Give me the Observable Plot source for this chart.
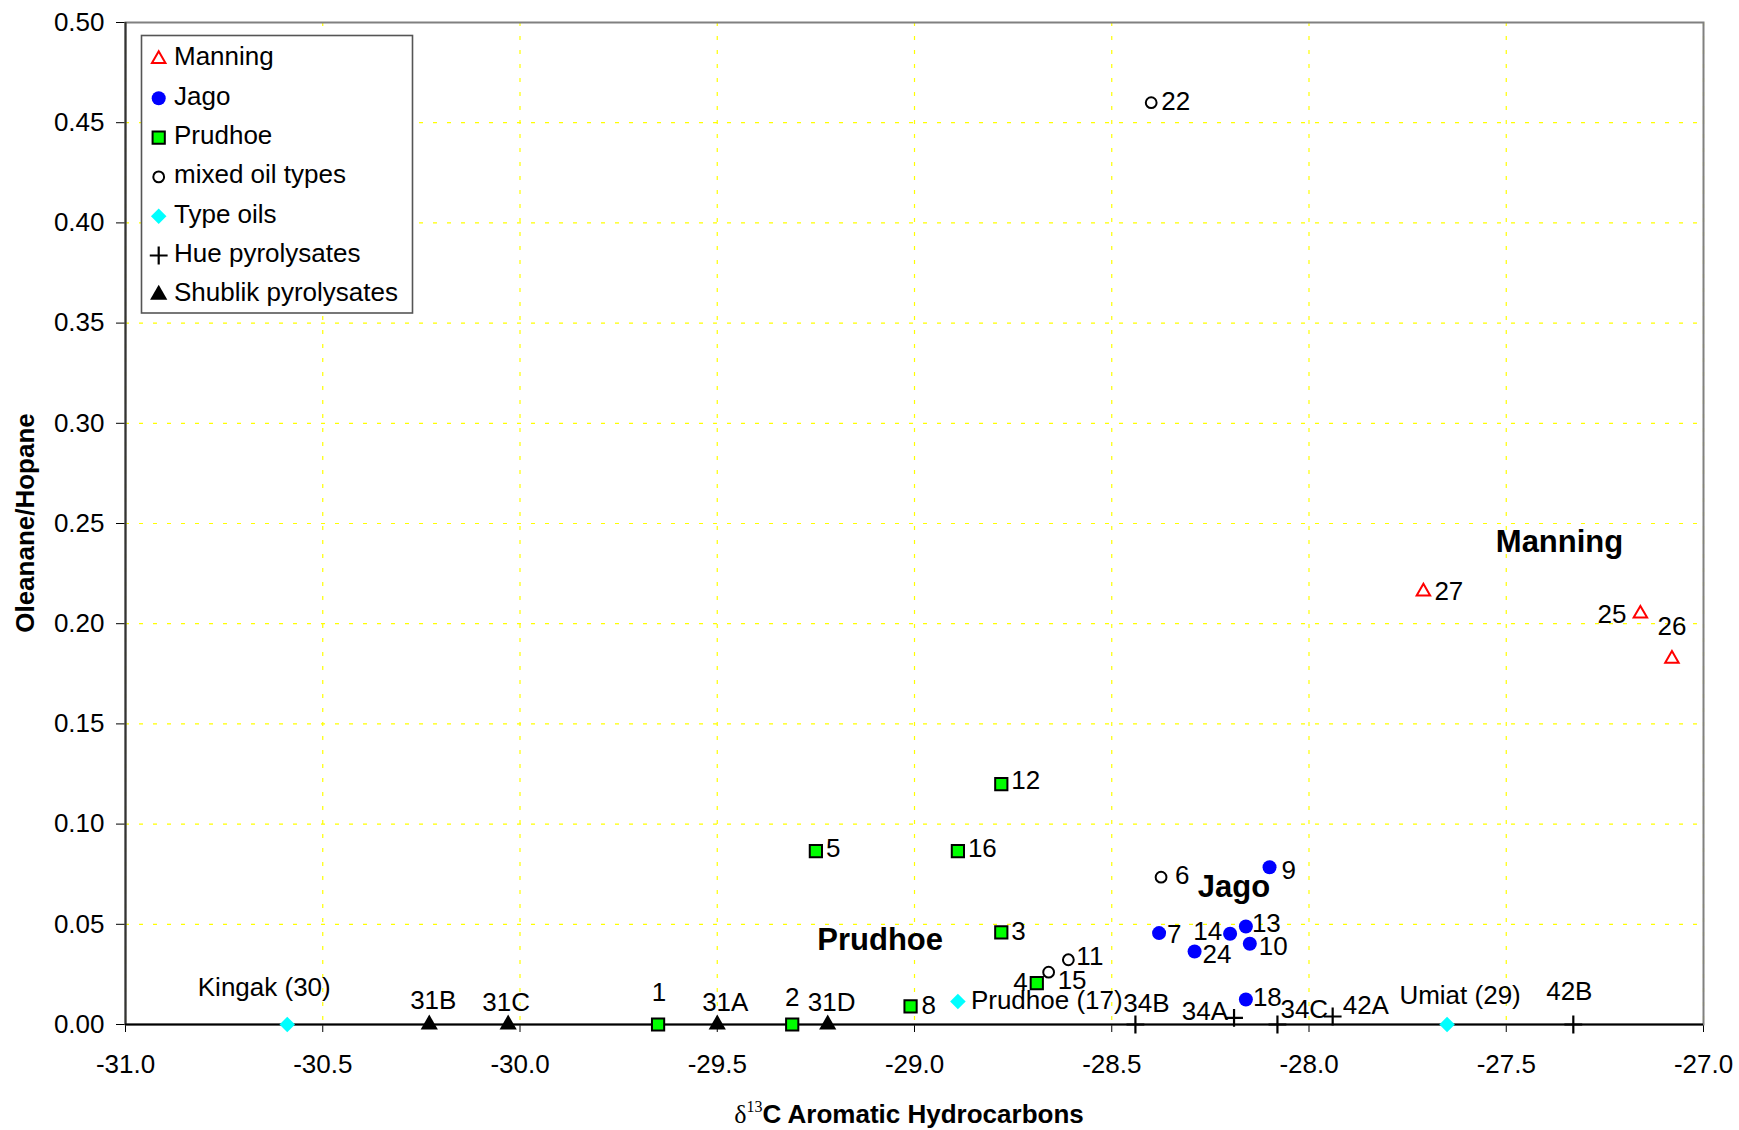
<!DOCTYPE html>
<html><head><meta charset="utf-8">
<script src="https://cdn.jsdelivr.net/npm/d3@7"></script>
<script src="https://cdn.jsdelivr.net/npm/@observablehq/plot@0.6"></script>
<style>
html,body{margin:0;padding:0;background:#fff;overflow:hidden;}
#chart{position:relative;width:1739px;height:1130px;}
</style>
</head><body><div id="chart"></div>
<script>
// ---------- data ----------
const xTicks = [-31.0, -30.5, -30.0, -29.5, -29.0, -28.5, -28.0, -27.5, -27.0];
const yTicks = [0, 0.05, 0.10, 0.15, 0.20, 0.25, 0.30, 0.35, 0.40, 0.45, 0.50];

const seriesNames = ["Manning", "Jago", "Prudhoe", "mixed oil types", "Type oils", "Hue pyrolysates", "Shublik pyrolysates"];

const manningLabels = ["27", "25", "26"];
const manningX = [-27.71, -27.16, -27.08];
const manningY = [0.216, 0.205, 0.1825];

const jagoLabels = ["9", "7", "14", "13", "10", "24", "18"];
const jagoX = [-28.10, -28.38, -28.20, -28.16, -28.15, -28.29, -28.16];
const jagoY = [0.0785, 0.0456, 0.0453, 0.0489, 0.0403, 0.0364, 0.0125];

const prudhoeLabels = ["12", "5", "16", "3", "4", "8", "1", "2"];
const prudhoeX = [-28.78, -29.25, -28.89, -28.78, -28.69, -29.01, -29.65, -29.31];
const prudhoeY = [0.120, 0.0865, 0.0865, 0.046, 0.0206, 0.0091, 0, 0];

const mixedLabels = ["22", "6", "11", "15"];
const mixedX = [-28.40, -28.375, -28.61, -28.66];
const mixedY = [0.460, 0.0735, 0.0323, 0.0261];

const typeLabels = ["Kingak (30)", "Prudhoe (17)", "Umiat (29)"];
const typeX = [-30.59, -28.89, -27.65];
const typeY = [0, 0.0115, 0];

const hueLabels = ["34B", "34A", "34C", "42A", "42B"];
const hueX = [-28.44, -28.19, -28.08, -27.94, -27.33];
const hueY = [0, 0.0033, 0, 0.004, 0];

const shublikLabels = ["31B", "31C", "31A", "31D"];
const shublikX = [-30.23, -30.03, -29.50, -29.22];
const shublikY = [0, 0, 0, 0];

const groupNames = ["Manning", "Jago", "Prudhoe"];
const groupX = [-27.365, -28.19, -29.087];
const groupY = [0.2407, 0.0685, 0.0419];

// ---------- styles / label layout ----------
const seriesStyle = {
  "Manning": {symbol: "triangle", r: 5, fill: "white", stroke: "#ff0000", strokeWidth: 2},
  "Jago": {symbol: "circle", r: 7, fill: "#0000ff", stroke: "none", strokeWidth: 0},
  "Prudhoe": {symbol: "square", r: 6.9, fill: "#00ff00", stroke: "black", strokeWidth: 2},
  "mixed oil types": {symbol: "circle", r: 5.4, fill: "white", stroke: "black", strokeWidth: 2},
  "Type oils": {symbol: "diamond2", r: 7, fill: "#00ffff", stroke: "none", strokeWidth: 0},
  "Hue pyrolysates": {symbol: "plus", r: 5.8, fill: "none", stroke: "black", strokeWidth: 2.2},
  "Shublik pyrolysates": {symbol: "triangle", r: 6.4, fill: "black", stroke: "none", strokeWidth: 0}
};

// [dx, dy, textAnchor] in pixels relative to the point
const labelPlacement = {
  "27": [11, 0, "start"], "25": [-14, 1, "end"], "26": [0, -32, "middle"],
  "9": [12, 3, "start"], "7": [8, 2, "start"], "14": [-8, -2, "end"], "13": [6, -3, "start"],
  "10": [9, 3, "start"], "24": [8, 3, "start"], "18": [7, -2, "start"],
  "12": [10, -3, "start"], "5": [10, -2, "start"], "16": [10, -2, "start"], "3": [10, -1, "start"],
  "4": [-9, -1, "end"], "8": [11, -1, "start"], "1": [1, -32, "middle"], "2": [0, -27, "middle"],
  "22": [10, -1, "start"], "6": [14, -2, "start"], "11": [8, -3, "start"], "15": [9, 8, "start"],
  "Kingak (30)": [-23, -37, "middle"], "Prudhoe (17)": [13, -1, "start"], "Umiat (29)": [13, -29, "middle"],
  "34B": [11, -21, "middle"], "34A": [-6, -6, "end"], "34C": [3, -15, "start"], "42A": [10, -11, "start"],
  "42B": [-4, -33, "middle"],
  "31B": [4, -24, "middle"], "31C": [-2, -22, "middle"], "31A": [8, -22, "middle"], "31D": [4, -22, "middle"]
};

// ---------- build tables ----------
function table(series, labels, xs, ys) {
  return labels.map((l, i) => ({series, label: l, x: xs[i], y: ys[i]}));
}
const seriesData = {
  "Manning": table("Manning", manningLabels, manningX, manningY),
  "Jago": table("Jago", jagoLabels, jagoX, jagoY),
  "Prudhoe": table("Prudhoe", prudhoeLabels, prudhoeX, prudhoeY),
  "mixed oil types": table("mixed oil types", mixedLabels, mixedX, mixedY),
  "Type oils": table("Type oils", typeLabels, typeX, typeY),
  "Hue pyrolysates": table("Hue pyrolysates", hueLabels, hueX, hueY),
  "Shublik pyrolysates": table("Shublik pyrolysates", shublikLabels, shublikX, shublikY)
};
const allPoints = seriesNames.flatMap(s => seriesData[s]);
const groups = groupNames.map((n, i) => ({name: n, x: groupX[i], y: groupY[i]}));

const FONT = "'Liberation Sans', Arial, Helvetica, sans-serif";

const marks = [
  Plot.ruleX(xTicks, {stroke: "#ffff00", strokeWidth: 1.2, strokeDasharray: "4,10"}),
  Plot.ruleY(yTicks, {stroke: "#ffff00", strokeWidth: 1.2, strokeDasharray: "4,10"}),
  Plot.frame({stroke: "#808080", strokeWidth: 2}),
  Plot.ruleX([xTicks[0]], {stroke: "#333", strokeWidth: 2}),
  Plot.ruleY([yTicks[0]], {stroke: "black", strokeWidth: 2})
];
for (const s of seriesNames) {
  const st = seriesStyle[s];
  marks.push(Plot.dot(seriesData[s], {x: "x", y: "y", symbol: st.symbol, r: st.r,
    fill: st.fill, stroke: st.stroke, strokeWidth: st.strokeWidth}));
}
for (const p of allPoints) {
  const [dx, dy, anchor] = labelPlacement[p.label] || [10, 0, "start"];
  marks.push(Plot.text([p], {x: "x", y: "y", text: "label", dx, dy, textAnchor: anchor,
    fontSize: 26, fill: "black"}));
}
marks.push(Plot.text(groups, {x: "x", y: "y", text: "name", fontSize: 31, fontWeight: "bold", fill: "black"}));

const svg = Plot.plot({
  width: 1739,
  height: 1130,
  marginLeft: 125,
  marginRight: 36,
  marginTop: 22,
  marginBottom: 106,
  style: {background: "white", fontFamily: FONT, fontSize: "26px", color: "black", maxWidth: "none", overflow: "visible"},
  x: {domain: [-31, -27], ticks: xTicks, tickFormat: d => d.toFixed(1), tickSize: 8, tickPadding: 22, label: null},
  y: {domain: [0, 0.5], ticks: yTicks, tickFormat: d => d.toFixed(2), tickSize: 9, tickPadding: 12, label: null},
  marks
});
document.getElementById("chart").appendChild(svg);

// ---------- legend & axis titles ----------
const root = d3.select(svg);
const symMap = {triangle: d3.symbolTriangle, circle: d3.symbolCircle, square: d3.symbolSquare,
  diamond2: d3.symbolDiamond2, plus: d3.symbolPlus};
const lg = root.append("g").attr("class", "legend").attr("text-anchor", "start");
lg.append("rect").attr("x", 141.5).attr("y", 35.5).attr("width", 271).attr("height", 277.5)
  .attr("fill", "white").attr("stroke", "#555").attr("stroke-width", 1.6);
seriesNames.forEach((s, i) => {
  const st = seriesStyle[s];
  const cy = 59 + i * 39.3;
  lg.append("path")
    .attr("d", d3.symbol(symMap[st.symbol], Math.PI * st.r * st.r)())
    .attr("transform", `translate(158.7,${cy})`)
    .attr("fill", st.fill).attr("stroke", st.stroke).attr("stroke-width", st.strokeWidth);
  lg.append("text").attr("x", 174).attr("y", cy + 6.3).attr("font-size", 26)
    .attr("text-anchor", "start")
    .attr("font-family", FONT).attr("fill", "black").text(s);
});

root.append("text")
  .attr("transform", "translate(33.5,523) rotate(-90)")
  .attr("text-anchor", "middle").attr("font-family", FONT).attr("font-size", 26)
  .attr("font-weight", "bold").attr("fill", "black").text("Oleanane/Hopane");

const xt = root.append("text").attr("x", 909).attr("y", 1123).attr("text-anchor", "middle")
  .attr("fill", "black").attr("font-size", 26);
xt.append("tspan").attr("font-family", "'Liberation Serif', 'Times New Roman', serif").text("δ");
xt.append("tspan").attr("font-family", "'Liberation Serif', 'Times New Roman', serif")
  .attr("font-size", 16).attr("dy", -11).text("13");
xt.append("tspan").attr("font-family", FONT).attr("font-weight", "bold").attr("dy", 11).text("C Aromatic Hydrocarbons");
</script>
</body></html>
